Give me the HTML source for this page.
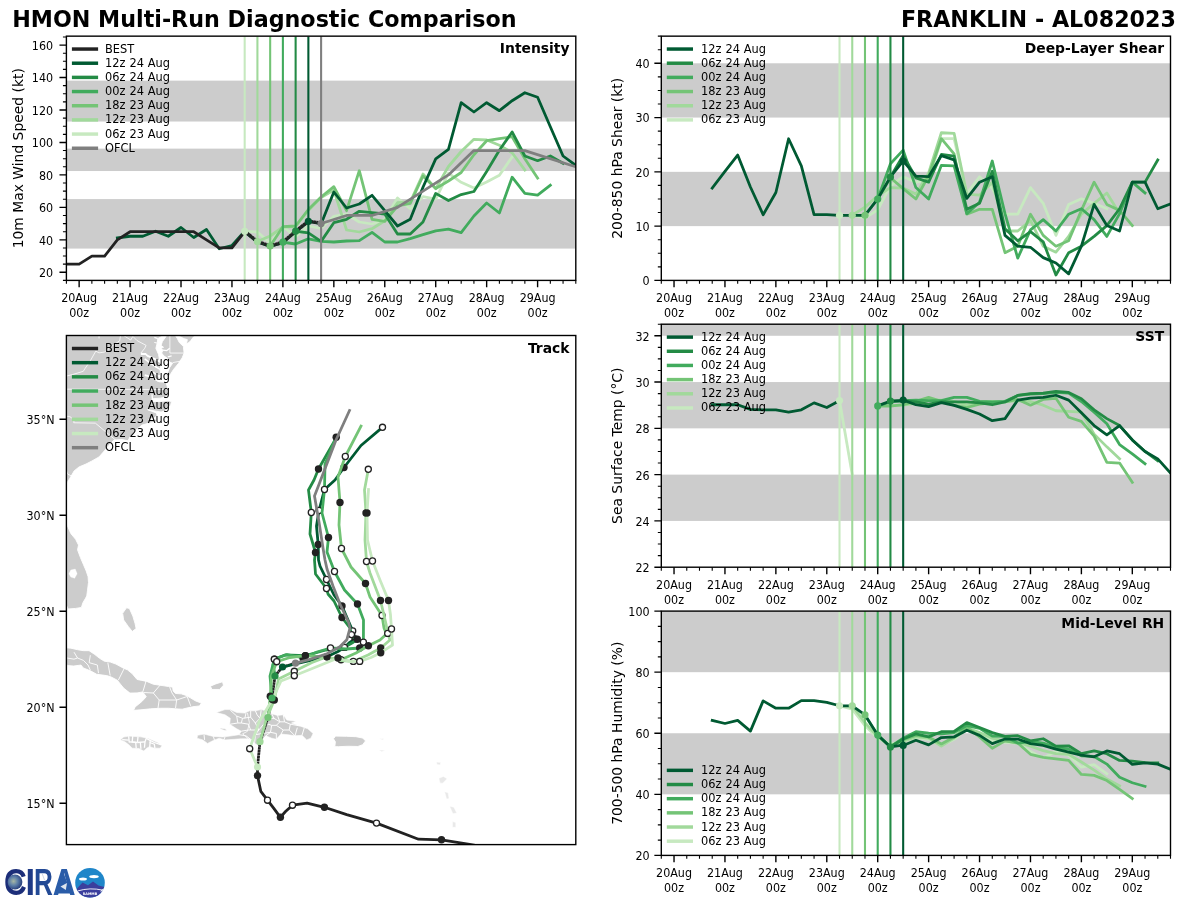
<!DOCTYPE html>
<html lang="en"><head><meta charset="utf-8"><title>HMON Multi-Run Diagnostic Comparison</title>
<style>html,body{margin:0;padding:0;background:#fff}svg{display:block}</style></head>
<body>
<svg width="1200" height="900" viewBox="0 0 1200 900" font-family="'DejaVu Sans','Liberation Sans',sans-serif">
<rect width="1200" height="900" fill="#fff"/>
<text x="12.2" y="26.6" font-size="22.22" text-anchor="start" font-weight="bold" fill="#000">HMON Multi-Run Diagnostic Comparison</text>
<text x="1176" y="26.6" font-size="22.22" text-anchor="end" font-weight="bold" fill="#000">FRANKLIN - AL082023</text>
<clipPath id="c1"><rect x="66.4" y="36.15" width="509.4" height="244.25"/></clipPath>
<g clip-path="url(#c1)">
<rect x="66.4" y="199.09" width="509.4" height="49.5" fill="#cccccc"/>
<rect x="66.4" y="148.62" width="509.4" height="22.4" fill="#cccccc"/>
<rect x="66.4" y="80.62" width="509.4" height="40.9" fill="#cccccc"/>
<polyline points="117.34,238 130.07,236.25 142.81,236.25 155.55,231.25 168.28,236.25 181.01,227.5 193.75,237.5 206.48,229.5 219.22,248.75 231.96,245.5 244.69,231.25" fill="none" stroke="#005a32" stroke-width="2.78" stroke-linejoin="round" stroke-linecap="square" />
<polyline points="66.4,264.17 79.14,264.17 91.87,256.06 104.61,256.06 117.34,239.83 130.07,231.71 142.81,231.71 155.55,231.71 168.28,231.71 181.01,231.71 193.75,231.71 206.48,239.83 219.22,247.94 231.96,247.94 244.69,231.71" fill="none" stroke="#222222" stroke-width="2.78" stroke-linejoin="round" stroke-linecap="square" />
<polyline points="244.69,231.3 257.42,232 270.16,243 282.89,226.5 295.63,236.7 308.37,226 321.1,228.3 333.84,216.3 346.57,214 359.3,222 372.04,224 384.77,219.3 397.51,198 410.25,208.7 422.98,196.7 435.72,199.2 448.45,173.2 461.18,182.3 473.92,188 486.65,182 499.39,175.2 512.12,157" fill="none" stroke="#c7e9c0" stroke-width="2.78" stroke-linejoin="round" stroke-linecap="square" />
<line x1="244.69" y1="36.15" x2="244.69" y2="280.4" stroke="#c7e9c0" stroke-width="2.08"/>
<polyline points="257.42,241.5 270.16,236 282.89,227 295.63,226.5 308.37,210.5 321.1,197.5 333.84,190 346.57,230 359.3,232 372.04,228.7 384.77,220.7 397.51,202.7 410.25,202 422.98,174 435.72,188.7 448.45,166.5 461.18,151.5 473.92,139.3 486.65,140 499.39,145.3 512.12,152.7 524.86,170" fill="none" stroke="#a1d99b" stroke-width="2.78" stroke-linejoin="round" stroke-linecap="square" />
<line x1="257.42" y1="36.15" x2="257.42" y2="280.4" stroke="#a1d99b" stroke-width="2.08"/>
<polyline points="270.16,246 282.89,226.7 295.63,226 308.37,209.5 321.1,197 333.84,186.7 346.57,210.7 359.3,170.7 372.04,219.3 384.77,221.3 397.51,206 410.25,203.3 422.98,176 435.72,188.5 448.45,181 461.18,172.5 473.92,154.8 486.65,140.7 499.39,138.7 512.12,136.7 524.86,158.7 537.6,178" fill="none" stroke="#74c476" stroke-width="2.78" stroke-linejoin="round" stroke-linecap="square" />
<line x1="270.16" y1="36.15" x2="270.16" y2="280.4" stroke="#74c476" stroke-width="2.08"/>
<polyline points="282.89,242.2 295.63,244 308.37,238.8 321.1,241.3 333.84,242 346.57,241 359.3,240.7 372.04,232.4 384.77,242 397.51,242 410.25,238.7 422.98,234.7 435.72,230.8 448.45,229.1 461.18,232.6 473.92,216 486.65,203 499.39,213 512.12,177.2 524.86,193.4 537.6,195.2 550.33,185.3" fill="none" stroke="#41ab5d" stroke-width="2.78" stroke-linejoin="round" stroke-linecap="square" />
<line x1="282.89" y1="36.15" x2="282.89" y2="280.4" stroke="#41ab5d" stroke-width="2.08"/>
<polyline points="295.63,231.2 308.37,232.8 321.1,241.4 333.84,222.7 346.57,219.3 359.3,211.3 372.04,212.7 384.77,214 397.51,234 410.25,234 422.98,222 435.72,193.4 448.45,200.5 461.18,194.6 473.92,191.5 486.65,171.5 499.39,150.3 512.12,132 524.86,156 537.6,160.7 550.33,156 563.06,163.3" fill="none" stroke="#238b45" stroke-width="2.78" stroke-linejoin="round" stroke-linecap="square" />
<line x1="295.63" y1="36.15" x2="295.63" y2="280.4" stroke="#238b45" stroke-width="2.08"/>
<polyline points="308.37,221.3 321.1,224 333.84,192 346.57,208 359.3,204 372.04,195.3 384.77,210.7 397.51,226 410.25,219.3 422.98,187.3 435.72,158.9 448.45,149.3 461.18,102.7 473.92,112 486.65,102.7 499.39,110.7 512.12,100.7 524.86,92.7 537.6,97.3 550.33,126.7 563.06,156 575.8,165.3" fill="none" stroke="#005a32" stroke-width="2.78" stroke-linejoin="round" stroke-linecap="square" />
<line x1="308.37" y1="36.15" x2="308.37" y2="280.4" stroke="#005a32" stroke-width="2.08"/>
<line x1="321.1" y1="36.15" x2="321.1" y2="280.4" stroke="#7f7f7f" stroke-width="2.08"/>
<polyline points="321.1,223.6 346.57,215.48 372.04,215.48 397.51,207.37 422.98,191.14 448.45,174.91 473.92,150.57 524.86,150.57 575.8,166.8" fill="none" stroke="#7f7f7f" stroke-width="2.78" stroke-linejoin="round" stroke-linecap="square" />
<polyline points="244.69,231.8 257.42,242 270.16,246.5 282.89,242.7 295.63,231.7 308.37,221.8" fill="none" stroke="#005a32" stroke-width="2.78" stroke-linejoin="round" stroke-linecap="square" />
<polyline points="244.69,231.3 257.42,241.5 270.16,246 282.89,242.2 295.63,231.2 308.37,221.3 321.1,223" fill="none" stroke="#222222" stroke-width="3.4" stroke-linejoin="round" stroke-dasharray="2.6 0.3"/>
<circle cx="244.69" cy="231.3" r="3.6" fill="#c7e9c0"/>
<circle cx="257.42" cy="241.5" r="3.6" fill="#a1d99b"/>
<circle cx="270.16" cy="246" r="3.6" fill="#74c476"/>
<circle cx="282.89" cy="242.2" r="3.6" fill="#41ab5d"/>
<circle cx="295.63" cy="231.2" r="3.6" fill="#238b45"/>
<circle cx="308.37" cy="221.3" r="3.6" fill="#005a32"/>
<circle cx="321.1" cy="223.6" r="3.6" fill="#7f7f7f"/>
</g>
<rect x="66.4" y="36.15" width="509.4" height="244.25" fill="none" stroke="#000" stroke-width="1.39"/>
<path d="M66.4 272.29h-6.94M66.4 239.83h-6.94M66.4 207.37h-6.94M66.4 174.91h-6.94M66.4 142.45h-6.94M66.4 109.99h-6.94M66.4 77.53h-6.94M66.4 45.08h-6.94" stroke="#000" stroke-width="1.39" fill="none"/>
<path d="M66.4 280.4h-3.47M66.4 264.17h-3.47M66.4 256.06h-3.47M66.4 247.94h-3.47M66.4 231.71h-3.47M66.4 223.6h-3.47M66.4 215.48h-3.47M66.4 199.25h-3.47M66.4 191.14h-3.47M66.4 183.02h-3.47M66.4 166.8h-3.47M66.4 158.68h-3.47M66.4 150.57h-3.47M66.4 134.34h-3.47M66.4 126.22h-3.47M66.4 118.11h-3.47M66.4 101.88h-3.47M66.4 93.76h-3.47M66.4 85.65h-3.47M66.4 69.42h-3.47M66.4 61.31h-3.47M66.4 53.19h-3.47M66.4 36.96h-3.47" stroke="#000" stroke-width="1.1" fill="none"/>
<text transform="translate(53.1 277.19) scale(1 1.08)" font-size="11.15" word-spacing="0.3" text-anchor="end" fill="#000">20</text>
<text transform="translate(53.1 244.73) scale(1 1.08)" font-size="11.15" word-spacing="0.3" text-anchor="end" fill="#000">40</text>
<text transform="translate(53.1 212.27) scale(1 1.08)" font-size="11.15" word-spacing="0.3" text-anchor="end" fill="#000">60</text>
<text transform="translate(53.1 179.81) scale(1 1.08)" font-size="11.15" word-spacing="0.3" text-anchor="end" fill="#000">80</text>
<text transform="translate(53.1 147.35) scale(1 1.08)" font-size="11.15" word-spacing="0.3" text-anchor="end" fill="#000">100</text>
<text transform="translate(53.1 114.89) scale(1 1.08)" font-size="11.15" word-spacing="0.3" text-anchor="end" fill="#000">120</text>
<text transform="translate(53.1 82.43) scale(1 1.08)" font-size="11.15" word-spacing="0.3" text-anchor="end" fill="#000">140</text>
<text transform="translate(53.1 49.98) scale(1 1.08)" font-size="11.15" word-spacing="0.3" text-anchor="end" fill="#000">160</text>
<path d="M79.14 280.4v6.94M130.07 280.4v6.94M181.01 280.4v6.94M231.96 280.4v6.94M282.89 280.4v6.94M333.84 280.4v6.94M384.77 280.4v6.94M435.72 280.4v6.94M486.65 280.4v6.94M537.6 280.4v6.94" stroke="#000" stroke-width="1.39" fill="none"/>
<path d="M66.4 280.4v3.47M91.87 280.4v3.47M104.61 280.4v3.47M117.34 280.4v3.47M142.81 280.4v3.47M155.55 280.4v3.47M168.28 280.4v3.47M193.75 280.4v3.47M206.48 280.4v3.47M219.22 280.4v3.47M244.69 280.4v3.47M257.42 280.4v3.47M270.16 280.4v3.47M295.63 280.4v3.47M308.37 280.4v3.47M321.1 280.4v3.47M346.57 280.4v3.47M359.3 280.4v3.47M372.04 280.4v3.47M397.51 280.4v3.47M410.25 280.4v3.47M422.98 280.4v3.47M448.45 280.4v3.47M461.18 280.4v3.47M473.92 280.4v3.47M499.39 280.4v3.47M512.12 280.4v3.47M524.86 280.4v3.47M550.33 280.4v3.47M563.06 280.4v3.47M575.8 280.4v3.47" stroke="#000" stroke-width="1.1" fill="none"/>
<text transform="translate(79.14 301.8) scale(1 1.08)" font-size="11.15" word-spacing="0.3" text-anchor="middle" fill="#000">20Aug</text>
<text transform="translate(79.14 316.8) scale(1 1.08)" font-size="11.15" word-spacing="0.3" text-anchor="middle" fill="#000">00z</text>
<text transform="translate(130.07 301.8) scale(1 1.08)" font-size="11.15" word-spacing="0.3" text-anchor="middle" fill="#000">21Aug</text>
<text transform="translate(130.07 316.8) scale(1 1.08)" font-size="11.15" word-spacing="0.3" text-anchor="middle" fill="#000">00z</text>
<text transform="translate(181.01 301.8) scale(1 1.08)" font-size="11.15" word-spacing="0.3" text-anchor="middle" fill="#000">22Aug</text>
<text transform="translate(181.01 316.8) scale(1 1.08)" font-size="11.15" word-spacing="0.3" text-anchor="middle" fill="#000">00z</text>
<text transform="translate(231.96 301.8) scale(1 1.08)" font-size="11.15" word-spacing="0.3" text-anchor="middle" fill="#000">23Aug</text>
<text transform="translate(231.96 316.8) scale(1 1.08)" font-size="11.15" word-spacing="0.3" text-anchor="middle" fill="#000">00z</text>
<text transform="translate(282.89 301.8) scale(1 1.08)" font-size="11.15" word-spacing="0.3" text-anchor="middle" fill="#000">24Aug</text>
<text transform="translate(282.89 316.8) scale(1 1.08)" font-size="11.15" word-spacing="0.3" text-anchor="middle" fill="#000">00z</text>
<text transform="translate(333.84 301.8) scale(1 1.08)" font-size="11.15" word-spacing="0.3" text-anchor="middle" fill="#000">25Aug</text>
<text transform="translate(333.84 316.8) scale(1 1.08)" font-size="11.15" word-spacing="0.3" text-anchor="middle" fill="#000">00z</text>
<text transform="translate(384.77 301.8) scale(1 1.08)" font-size="11.15" word-spacing="0.3" text-anchor="middle" fill="#000">26Aug</text>
<text transform="translate(384.77 316.8) scale(1 1.08)" font-size="11.15" word-spacing="0.3" text-anchor="middle" fill="#000">00z</text>
<text transform="translate(435.72 301.8) scale(1 1.08)" font-size="11.15" word-spacing="0.3" text-anchor="middle" fill="#000">27Aug</text>
<text transform="translate(435.72 316.8) scale(1 1.08)" font-size="11.15" word-spacing="0.3" text-anchor="middle" fill="#000">00z</text>
<text transform="translate(486.65 301.8) scale(1 1.08)" font-size="11.15" word-spacing="0.3" text-anchor="middle" fill="#000">28Aug</text>
<text transform="translate(486.65 316.8) scale(1 1.08)" font-size="11.15" word-spacing="0.3" text-anchor="middle" fill="#000">00z</text>
<text transform="translate(537.6 301.8) scale(1 1.08)" font-size="11.15" word-spacing="0.3" text-anchor="middle" fill="#000">29Aug</text>
<text transform="translate(537.6 316.8) scale(1 1.08)" font-size="11.15" word-spacing="0.3" text-anchor="middle" fill="#000">00z</text>
<text x="23.3" y="158.27" font-size="13.89" text-anchor="middle" fill="#000" transform="rotate(-90 23.3 158.27)">10m Max Wind Speed (kt)</text>
<text x="569.5" y="53.15" font-size="13.89" text-anchor="end" font-weight="bold" fill="#000">Intensity</text>
<line x1="71.9" y1="49.05" x2="98.1" y2="49.05" stroke="#222222" stroke-width="3.47"/>
<text transform="translate(105 52.55) scale(1 1.08)" font-size="11.4" word-spacing="0.3" text-anchor="start" fill="#000">BEST</text>
<line x1="71.9" y1="63.22" x2="98.1" y2="63.22" stroke="#005a32" stroke-width="3.47"/>
<text transform="translate(105 66.72) scale(1 1.08)" font-size="11.4" word-spacing="0.3" text-anchor="start" fill="#000">12z 24 Aug</text>
<line x1="71.9" y1="77.39" x2="98.1" y2="77.39" stroke="#238b45" stroke-width="3.47"/>
<text transform="translate(105 80.89) scale(1 1.08)" font-size="11.4" word-spacing="0.3" text-anchor="start" fill="#000">06z 24 Aug</text>
<line x1="71.9" y1="91.56" x2="98.1" y2="91.56" stroke="#41ab5d" stroke-width="3.47"/>
<text transform="translate(105 95.06) scale(1 1.08)" font-size="11.4" word-spacing="0.3" text-anchor="start" fill="#000">00z 24 Aug</text>
<line x1="71.9" y1="105.73" x2="98.1" y2="105.73" stroke="#74c476" stroke-width="3.47"/>
<text transform="translate(105 109.23) scale(1 1.08)" font-size="11.4" word-spacing="0.3" text-anchor="start" fill="#000">18z 23 Aug</text>
<line x1="71.9" y1="119.9" x2="98.1" y2="119.9" stroke="#a1d99b" stroke-width="3.47"/>
<text transform="translate(105 123.4) scale(1 1.08)" font-size="11.4" word-spacing="0.3" text-anchor="start" fill="#000">12z 23 Aug</text>
<line x1="71.9" y1="134.07" x2="98.1" y2="134.07" stroke="#c7e9c0" stroke-width="3.47"/>
<text transform="translate(105 137.57) scale(1 1.08)" font-size="11.4" word-spacing="0.3" text-anchor="start" fill="#000">06z 23 Aug</text>
<line x1="71.9" y1="148.24" x2="98.1" y2="148.24" stroke="#7f7f7f" stroke-width="3.47"/>
<text transform="translate(105 151.74) scale(1 1.08)" font-size="11.4" word-spacing="0.3" text-anchor="start" fill="#000">OFCL</text>
<clipPath id="c2"><rect x="661.3" y="36.15" width="509.2" height="244.25"/></clipPath>
<g clip-path="url(#c2)">
<rect x="661.3" y="171.84" width="509.2" height="54.28" fill="#cccccc"/>
<rect x="661.3" y="63.29" width="509.2" height="54.28" fill="#cccccc"/>
<polyline points="839.52,215.27 852.25,215.27 864.98,217.98 877.71,209.84 890.44,185.96 903.17,176.73 915.9,182.16 928.63,179.99 941.36,138.73 954.09,138.73 966.82,193.56 979.55,176.73 992.28,188.13 1005.01,214.18 1017.74,214.18 1030.47,187.58 1043.2,203.33 1055.93,235.35 1068.66,204.41 1081.39,198.71 1094.12,203.33 1106.85,208.75" fill="none" stroke="#c7e9c0" stroke-width="2.78" stroke-linejoin="round" stroke-linecap="square" />
<line x1="839.52" y1="36.15" x2="839.52" y2="280.4" stroke="#c7e9c0" stroke-width="2.08"/>
<polyline points="852.25,215.27 864.98,207.12 877.71,195.73 890.44,187.58 903.17,188.13 915.9,194.1 928.63,172.93 941.36,132.76 954.09,133.31 966.82,194.1 979.55,195.18 992.28,182.16 1005.01,231.01 1017.74,231.01 1030.47,220.69 1043.2,246.2 1055.93,252.18 1068.66,236.43 1081.39,214.18 1094.12,203.33 1106.85,193.01 1119.58,213.64" fill="none" stroke="#a1d99b" stroke-width="2.78" stroke-linejoin="round" stroke-linecap="square" />
<line x1="852.25" y1="36.15" x2="852.25" y2="280.4" stroke="#a1d99b" stroke-width="2.08"/>
<polyline points="864.98,215.27 877.71,198.98 890.44,177.81 903.17,188.67 915.9,198.98 928.63,175.64 941.36,138.73 954.09,153.93 966.82,214.18 979.55,209.3 992.28,209.3 1005.01,252.72 1017.74,246.2 1030.47,214.18 1043.2,235.35 1055.93,246.2 1068.66,240.78 1081.39,210.38 1094.12,182.16 1106.85,204.41 1119.58,210.38 1132.31,225.58" fill="none" stroke="#74c476" stroke-width="2.78" stroke-linejoin="round" stroke-linecap="square" />
<line x1="864.98" y1="36.15" x2="864.98" y2="280.4" stroke="#74c476" stroke-width="2.08"/>
<polyline points="877.71,198.98 890.44,163.7 903.17,150.13 915.9,187.58 928.63,198.98 941.36,165.33 954.09,165.87 966.82,213.64 979.55,202.24 992.28,160.99 1005.01,213.64 1017.74,258.15 1030.47,229.92 1043.2,219.61 1055.93,231.01 1068.66,214.18 1081.39,208.75 1094.12,219.61 1106.85,236.43 1119.58,213.64 1132.31,182.16 1145.04,193.01" fill="none" stroke="#41ab5d" stroke-width="2.78" stroke-linejoin="round" stroke-linecap="square" />
<line x1="877.71" y1="36.15" x2="877.71" y2="280.4" stroke="#41ab5d" stroke-width="2.08"/>
<polyline points="890.44,177 903.17,155.56 915.9,177.81 928.63,182.16 941.36,154.48 954.09,156.1 966.82,209.3 979.55,203.33 992.28,171.3 1005.01,228.84 1017.74,240.78 1030.47,231.55 1043.2,241.86 1055.93,274.97 1068.66,252.72 1081.39,246.2 1094.12,236.43 1106.85,225.58 1119.58,208.75 1132.31,182.16 1145.04,182.16 1157.77,159.9" fill="none" stroke="#238b45" stroke-width="2.78" stroke-linejoin="round" stroke-linecap="square" />
<line x1="890.44" y1="36.15" x2="890.44" y2="280.4" stroke="#238b45" stroke-width="2.08"/>
<polyline points="903.17,160.99 915.9,176.19 928.63,176.73 941.36,155.56 954.09,159.9 966.82,198.44 979.55,182.16 992.28,176.73 1005.01,235.35 1017.74,246.2 1030.47,247.29 1043.2,257.6 1055.93,263.03 1068.66,273.89 1081.39,246.2 1094.12,204.41 1106.85,225.58 1119.58,231.01 1132.31,182.16 1145.04,182.16 1157.77,208.75 1170.5,203.87" fill="none" stroke="#005a32" stroke-width="2.78" stroke-linejoin="round" stroke-linecap="square" />
<line x1="903.17" y1="36.15" x2="903.17" y2="280.4" stroke="#005a32" stroke-width="2.08"/>
<polyline points="712.22,188.13 724.95,171.3 737.68,155.02 750.41,187.04 763.14,214.72 775.87,192.47 788.6,138.73 801.33,165.87 814.06,214.72 826.79,214.72 839.52,215.27 852.25,215.27 864.98,215.27 877.71,198.98 890.44,177 903.17,160.99" fill="none" stroke="#005a32" stroke-width="2.78" stroke-linejoin="round" stroke-linecap="square" />
<circle cx="839.52" cy="215.27" r="3.6" fill="#c7e9c0"/>
<circle cx="852.25" cy="215.27" r="3.6" fill="#a1d99b"/>
<circle cx="864.98" cy="215.27" r="3.6" fill="#74c476"/>
<circle cx="877.71" cy="198.98" r="3.6" fill="#41ab5d"/>
<circle cx="890.44" cy="177" r="3.6" fill="#238b45"/>
<circle cx="903.17" cy="160.99" r="3.6" fill="#005a32"/>
</g>
<rect x="661.3" y="36.15" width="509.2" height="244.25" fill="none" stroke="#000" stroke-width="1.39"/>
<path d="M661.3 280.4h-6.94M661.3 226.12h-6.94M661.3 171.84h-6.94M661.3 117.57h-6.94M661.3 63.29h-6.94" stroke="#000" stroke-width="1.39" fill="none"/>
<path d="M661.3 266.83h-3.47M661.3 253.26h-3.47M661.3 239.69h-3.47M661.3 212.55h-3.47M661.3 198.98h-3.47M661.3 185.41h-3.47M661.3 158.27h-3.47M661.3 144.71h-3.47M661.3 131.14h-3.47M661.3 104h-3.47M661.3 90.43h-3.47M661.3 76.86h-3.47M661.3 49.72h-3.47M661.3 36.15h-3.47" stroke="#000" stroke-width="1.1" fill="none"/>
<text transform="translate(649.6 285.3) scale(1 1.08)" font-size="11.15" word-spacing="0.3" text-anchor="end" fill="#000">0</text>
<text transform="translate(649.6 231.02) scale(1 1.08)" font-size="11.15" word-spacing="0.3" text-anchor="end" fill="#000">10</text>
<text transform="translate(649.6 176.74) scale(1 1.08)" font-size="11.15" word-spacing="0.3" text-anchor="end" fill="#000">20</text>
<text transform="translate(649.6 122.47) scale(1 1.08)" font-size="11.15" word-spacing="0.3" text-anchor="end" fill="#000">30</text>
<text transform="translate(649.6 68.19) scale(1 1.08)" font-size="11.15" word-spacing="0.3" text-anchor="end" fill="#000">40</text>
<path d="M674.03 280.4v6.94M724.95 280.4v6.94M775.87 280.4v6.94M826.79 280.4v6.94M877.71 280.4v6.94M928.63 280.4v6.94M979.55 280.4v6.94M1030.47 280.4v6.94M1081.39 280.4v6.94M1132.31 280.4v6.94" stroke="#000" stroke-width="1.39" fill="none"/>
<path d="M661.3 280.4v3.47M686.76 280.4v3.47M699.49 280.4v3.47M712.22 280.4v3.47M737.68 280.4v3.47M750.41 280.4v3.47M763.14 280.4v3.47M788.6 280.4v3.47M801.33 280.4v3.47M814.06 280.4v3.47M839.52 280.4v3.47M852.25 280.4v3.47M864.98 280.4v3.47M890.44 280.4v3.47M903.17 280.4v3.47M915.9 280.4v3.47M941.36 280.4v3.47M954.09 280.4v3.47M966.82 280.4v3.47M992.28 280.4v3.47M1005.01 280.4v3.47M1017.74 280.4v3.47M1043.2 280.4v3.47M1055.93 280.4v3.47M1068.66 280.4v3.47M1094.12 280.4v3.47M1106.85 280.4v3.47M1119.58 280.4v3.47M1145.04 280.4v3.47M1157.77 280.4v3.47M1170.5 280.4v3.47" stroke="#000" stroke-width="1.1" fill="none"/>
<text transform="translate(674.03 301.8) scale(1 1.08)" font-size="11.15" word-spacing="0.3" text-anchor="middle" fill="#000">20Aug</text>
<text transform="translate(674.03 316.8) scale(1 1.08)" font-size="11.15" word-spacing="0.3" text-anchor="middle" fill="#000">00z</text>
<text transform="translate(724.95 301.8) scale(1 1.08)" font-size="11.15" word-spacing="0.3" text-anchor="middle" fill="#000">21Aug</text>
<text transform="translate(724.95 316.8) scale(1 1.08)" font-size="11.15" word-spacing="0.3" text-anchor="middle" fill="#000">00z</text>
<text transform="translate(775.87 301.8) scale(1 1.08)" font-size="11.15" word-spacing="0.3" text-anchor="middle" fill="#000">22Aug</text>
<text transform="translate(775.87 316.8) scale(1 1.08)" font-size="11.15" word-spacing="0.3" text-anchor="middle" fill="#000">00z</text>
<text transform="translate(826.79 301.8) scale(1 1.08)" font-size="11.15" word-spacing="0.3" text-anchor="middle" fill="#000">23Aug</text>
<text transform="translate(826.79 316.8) scale(1 1.08)" font-size="11.15" word-spacing="0.3" text-anchor="middle" fill="#000">00z</text>
<text transform="translate(877.71 301.8) scale(1 1.08)" font-size="11.15" word-spacing="0.3" text-anchor="middle" fill="#000">24Aug</text>
<text transform="translate(877.71 316.8) scale(1 1.08)" font-size="11.15" word-spacing="0.3" text-anchor="middle" fill="#000">00z</text>
<text transform="translate(928.63 301.8) scale(1 1.08)" font-size="11.15" word-spacing="0.3" text-anchor="middle" fill="#000">25Aug</text>
<text transform="translate(928.63 316.8) scale(1 1.08)" font-size="11.15" word-spacing="0.3" text-anchor="middle" fill="#000">00z</text>
<text transform="translate(979.55 301.8) scale(1 1.08)" font-size="11.15" word-spacing="0.3" text-anchor="middle" fill="#000">26Aug</text>
<text transform="translate(979.55 316.8) scale(1 1.08)" font-size="11.15" word-spacing="0.3" text-anchor="middle" fill="#000">00z</text>
<text transform="translate(1030.47 301.8) scale(1 1.08)" font-size="11.15" word-spacing="0.3" text-anchor="middle" fill="#000">27Aug</text>
<text transform="translate(1030.47 316.8) scale(1 1.08)" font-size="11.15" word-spacing="0.3" text-anchor="middle" fill="#000">00z</text>
<text transform="translate(1081.39 301.8) scale(1 1.08)" font-size="11.15" word-spacing="0.3" text-anchor="middle" fill="#000">28Aug</text>
<text transform="translate(1081.39 316.8) scale(1 1.08)" font-size="11.15" word-spacing="0.3" text-anchor="middle" fill="#000">00z</text>
<text transform="translate(1132.31 301.8) scale(1 1.08)" font-size="11.15" word-spacing="0.3" text-anchor="middle" fill="#000">29Aug</text>
<text transform="translate(1132.31 316.8) scale(1 1.08)" font-size="11.15" word-spacing="0.3" text-anchor="middle" fill="#000">00z</text>
<text x="621.7" y="158.27" font-size="13.89" text-anchor="middle" fill="#000" transform="rotate(-90 621.7 158.27)">200-850 hPa Shear (kt)</text>
<text x="1164.2" y="53.15" font-size="13.89" text-anchor="end" font-weight="bold" fill="#000">Deep-Layer Shear</text>
<line x1="666.8" y1="49.05" x2="693" y2="49.05" stroke="#005a32" stroke-width="3.47"/>
<text transform="translate(701 52.55) scale(1 1.08)" font-size="11.4" word-spacing="0.3" text-anchor="start" fill="#000">12z 24 Aug</text>
<line x1="666.8" y1="63.22" x2="693" y2="63.22" stroke="#238b45" stroke-width="3.47"/>
<text transform="translate(701 66.72) scale(1 1.08)" font-size="11.4" word-spacing="0.3" text-anchor="start" fill="#000">06z 24 Aug</text>
<line x1="666.8" y1="77.39" x2="693" y2="77.39" stroke="#41ab5d" stroke-width="3.47"/>
<text transform="translate(701 80.89) scale(1 1.08)" font-size="11.4" word-spacing="0.3" text-anchor="start" fill="#000">00z 24 Aug</text>
<line x1="666.8" y1="91.56" x2="693" y2="91.56" stroke="#74c476" stroke-width="3.47"/>
<text transform="translate(701 95.06) scale(1 1.08)" font-size="11.4" word-spacing="0.3" text-anchor="start" fill="#000">18z 23 Aug</text>
<line x1="666.8" y1="105.73" x2="693" y2="105.73" stroke="#a1d99b" stroke-width="3.47"/>
<text transform="translate(701 109.23) scale(1 1.08)" font-size="11.4" word-spacing="0.3" text-anchor="start" fill="#000">12z 23 Aug</text>
<line x1="666.8" y1="119.9" x2="693" y2="119.9" stroke="#c7e9c0" stroke-width="3.47"/>
<text transform="translate(701 123.4) scale(1 1.08)" font-size="11.4" word-spacing="0.3" text-anchor="start" fill="#000">06z 23 Aug</text>
<clipPath id="c3"><rect x="661.3" y="324.2" width="509.2" height="243"/></clipPath>
<g clip-path="url(#c3)">
<rect x="661.3" y="474.63" width="509.2" height="46.29" fill="#cccccc"/>
<rect x="661.3" y="382.06" width="509.2" height="46.29" fill="#cccccc"/>
<rect x="661.3" y="289.49" width="509.2" height="46.29" fill="#cccccc"/>
<polyline points="839.52,400.57 852.25,474.63" fill="none" stroke="#c7e9c0" stroke-width="2.78" stroke-linejoin="round" stroke-linecap="square" />
<line x1="839.52" y1="324.2" x2="839.52" y2="567.2" stroke="#c7e9c0" stroke-width="2.08"/>
<polyline points="877.71,405.66 890.44,405.66 903.17,405.2 915.9,403.35 928.63,400.11 941.36,400.11 954.09,401.27 966.82,405.2 979.55,401.96 992.28,401.27 1005.01,401.96 1017.74,400.57 1030.47,401.5 1043.2,405.2 1055.93,410.75 1068.66,411.45 1081.39,412.14 1094.12,434.13 1106.85,446.86 1119.58,458.89" fill="none" stroke="#a1d99b" stroke-width="2.78" stroke-linejoin="round" stroke-linecap="square" />
<line x1="852.25" y1="324.2" x2="852.25" y2="567.2" stroke="#a1d99b" stroke-width="2.08"/>
<polyline points="877.71,406.13 890.44,406.13 903.17,404.74 915.9,401.27 928.63,397.33 941.36,401.27 954.09,405.2 966.82,407.51 979.55,404.04 992.28,402.89 1005.01,401.96 1017.74,399.41 1030.47,405.2 1043.2,399.41 1055.93,398.26 1068.66,417.23 1081.39,421.4 1094.12,436.21 1106.85,462.36 1119.58,463.06 1132.31,482.27" fill="none" stroke="#74c476" stroke-width="2.78" stroke-linejoin="round" stroke-linecap="square" />
<line x1="864.98" y1="324.2" x2="864.98" y2="567.2" stroke="#74c476" stroke-width="2.08"/>
<polyline points="877.71,405.89 890.44,401.96 903.17,400.57 915.9,400.11 928.63,400.57 941.36,400.57 954.09,397.33 966.82,397.33 979.55,401.27 992.28,401.96 1005.01,401.27 1017.74,395.48 1030.47,394.09 1043.2,393.63 1055.93,392.47 1068.66,393.17 1081.39,401.5 1094.12,412.14 1106.85,423.71 1119.58,444.54 1132.31,453.8 1145.04,463.75" fill="none" stroke="#41ab5d" stroke-width="2.78" stroke-linejoin="round" stroke-linecap="square" />
<line x1="877.71" y1="324.2" x2="877.71" y2="567.2" stroke="#41ab5d" stroke-width="2.08"/>
<polyline points="890.44,401.03 903.17,400.57 915.9,401.96 928.63,404.04 941.36,401.96 954.09,401.96 966.82,401.96 979.55,402.89 992.28,404.74 1005.01,401.96 1017.74,395.48 1030.47,393.63 1043.2,393.17 1055.93,391.31 1068.66,392.47 1081.39,398.72 1094.12,409.83 1106.85,418.62 1119.58,425.57 1132.31,439.91 1145.04,451.49 1157.77,460.74" fill="none" stroke="#238b45" stroke-width="2.78" stroke-linejoin="round" stroke-linecap="square" />
<line x1="890.44" y1="324.2" x2="890.44" y2="567.2" stroke="#238b45" stroke-width="2.08"/>
<polyline points="903.17,400.11 915.9,404.74 928.63,406.59 941.36,402.65 954.09,405.43 966.82,409.37 979.55,413.99 992.28,420.71 1005.01,418.62 1017.74,400.11 1030.47,398.03 1043.2,397.33 1055.93,395.25 1068.66,400.11 1081.39,412.84 1094.12,425.57 1106.85,434.82 1119.58,425.57 1132.31,439.91 1145.04,451.49 1157.77,458.89 1170.5,473.01" fill="none" stroke="#005a32" stroke-width="2.78" stroke-linejoin="round" stroke-linecap="square" />
<line x1="903.17" y1="324.2" x2="903.17" y2="567.2" stroke="#005a32" stroke-width="2.08"/>
<polyline points="712.22,404.74 724.95,404.74 737.68,404.74 750.41,409.37 763.14,409.83 775.87,409.83 788.6,412.14 801.33,409.83 814.06,402.89 826.79,407.51 839.52,400.57" fill="none" stroke="#005a32" stroke-width="2.78" stroke-linejoin="round" stroke-linecap="square" />
<polyline points="877.71,405.89 890.44,401.03 903.17,400.57" fill="none" stroke="#005a32" stroke-width="2.78" stroke-linejoin="round" stroke-linecap="square" />
<circle cx="839.52" cy="400.57" r="3.6" fill="#c7e9c0"/>
<circle cx="877.71" cy="405.89" r="3.6" fill="#41ab5d"/>
<circle cx="890.44" cy="401.03" r="3.6" fill="#238b45"/>
<circle cx="903.17" cy="400.11" r="3.6" fill="#005a32"/>
</g>
<rect x="661.3" y="324.2" width="509.2" height="243" fill="none" stroke="#000" stroke-width="1.39"/>
<path d="M661.3 567.2h-6.94M661.3 520.91h-6.94M661.3 474.63h-6.94M661.3 428.34h-6.94M661.3 382.06h-6.94M661.3 335.77h-6.94" stroke="#000" stroke-width="1.39" fill="none"/>
<path d="M661.3 555.63h-3.47M661.3 544.06h-3.47M661.3 532.49h-3.47M661.3 509.34h-3.47M661.3 497.77h-3.47M661.3 486.2h-3.47M661.3 463.06h-3.47M661.3 451.49h-3.47M661.3 439.91h-3.47M661.3 416.77h-3.47M661.3 405.2h-3.47M661.3 393.63h-3.47M661.3 370.49h-3.47M661.3 358.91h-3.47M661.3 347.34h-3.47M661.3 324.2h-3.47" stroke="#000" stroke-width="1.1" fill="none"/>
<text transform="translate(649.6 572.1) scale(1 1.08)" font-size="11.15" word-spacing="0.3" text-anchor="end" fill="#000">22</text>
<text transform="translate(649.6 525.81) scale(1 1.08)" font-size="11.15" word-spacing="0.3" text-anchor="end" fill="#000">24</text>
<text transform="translate(649.6 479.53) scale(1 1.08)" font-size="11.15" word-spacing="0.3" text-anchor="end" fill="#000">26</text>
<text transform="translate(649.6 433.24) scale(1 1.08)" font-size="11.15" word-spacing="0.3" text-anchor="end" fill="#000">28</text>
<text transform="translate(649.6 386.96) scale(1 1.08)" font-size="11.15" word-spacing="0.3" text-anchor="end" fill="#000">30</text>
<text transform="translate(649.6 340.67) scale(1 1.08)" font-size="11.15" word-spacing="0.3" text-anchor="end" fill="#000">32</text>
<path d="M674.03 567.2v6.94M724.95 567.2v6.94M775.87 567.2v6.94M826.79 567.2v6.94M877.71 567.2v6.94M928.63 567.2v6.94M979.55 567.2v6.94M1030.47 567.2v6.94M1081.39 567.2v6.94M1132.31 567.2v6.94" stroke="#000" stroke-width="1.39" fill="none"/>
<path d="M661.3 567.2v3.47M686.76 567.2v3.47M699.49 567.2v3.47M712.22 567.2v3.47M737.68 567.2v3.47M750.41 567.2v3.47M763.14 567.2v3.47M788.6 567.2v3.47M801.33 567.2v3.47M814.06 567.2v3.47M839.52 567.2v3.47M852.25 567.2v3.47M864.98 567.2v3.47M890.44 567.2v3.47M903.17 567.2v3.47M915.9 567.2v3.47M941.36 567.2v3.47M954.09 567.2v3.47M966.82 567.2v3.47M992.28 567.2v3.47M1005.01 567.2v3.47M1017.74 567.2v3.47M1043.2 567.2v3.47M1055.93 567.2v3.47M1068.66 567.2v3.47M1094.12 567.2v3.47M1106.85 567.2v3.47M1119.58 567.2v3.47M1145.04 567.2v3.47M1157.77 567.2v3.47M1170.5 567.2v3.47" stroke="#000" stroke-width="1.1" fill="none"/>
<text transform="translate(674.03 588.6) scale(1 1.08)" font-size="11.15" word-spacing="0.3" text-anchor="middle" fill="#000">20Aug</text>
<text transform="translate(674.03 603.6) scale(1 1.08)" font-size="11.15" word-spacing="0.3" text-anchor="middle" fill="#000">00z</text>
<text transform="translate(724.95 588.6) scale(1 1.08)" font-size="11.15" word-spacing="0.3" text-anchor="middle" fill="#000">21Aug</text>
<text transform="translate(724.95 603.6) scale(1 1.08)" font-size="11.15" word-spacing="0.3" text-anchor="middle" fill="#000">00z</text>
<text transform="translate(775.87 588.6) scale(1 1.08)" font-size="11.15" word-spacing="0.3" text-anchor="middle" fill="#000">22Aug</text>
<text transform="translate(775.87 603.6) scale(1 1.08)" font-size="11.15" word-spacing="0.3" text-anchor="middle" fill="#000">00z</text>
<text transform="translate(826.79 588.6) scale(1 1.08)" font-size="11.15" word-spacing="0.3" text-anchor="middle" fill="#000">23Aug</text>
<text transform="translate(826.79 603.6) scale(1 1.08)" font-size="11.15" word-spacing="0.3" text-anchor="middle" fill="#000">00z</text>
<text transform="translate(877.71 588.6) scale(1 1.08)" font-size="11.15" word-spacing="0.3" text-anchor="middle" fill="#000">24Aug</text>
<text transform="translate(877.71 603.6) scale(1 1.08)" font-size="11.15" word-spacing="0.3" text-anchor="middle" fill="#000">00z</text>
<text transform="translate(928.63 588.6) scale(1 1.08)" font-size="11.15" word-spacing="0.3" text-anchor="middle" fill="#000">25Aug</text>
<text transform="translate(928.63 603.6) scale(1 1.08)" font-size="11.15" word-spacing="0.3" text-anchor="middle" fill="#000">00z</text>
<text transform="translate(979.55 588.6) scale(1 1.08)" font-size="11.15" word-spacing="0.3" text-anchor="middle" fill="#000">26Aug</text>
<text transform="translate(979.55 603.6) scale(1 1.08)" font-size="11.15" word-spacing="0.3" text-anchor="middle" fill="#000">00z</text>
<text transform="translate(1030.47 588.6) scale(1 1.08)" font-size="11.15" word-spacing="0.3" text-anchor="middle" fill="#000">27Aug</text>
<text transform="translate(1030.47 603.6) scale(1 1.08)" font-size="11.15" word-spacing="0.3" text-anchor="middle" fill="#000">00z</text>
<text transform="translate(1081.39 588.6) scale(1 1.08)" font-size="11.15" word-spacing="0.3" text-anchor="middle" fill="#000">28Aug</text>
<text transform="translate(1081.39 603.6) scale(1 1.08)" font-size="11.15" word-spacing="0.3" text-anchor="middle" fill="#000">00z</text>
<text transform="translate(1132.31 588.6) scale(1 1.08)" font-size="11.15" word-spacing="0.3" text-anchor="middle" fill="#000">29Aug</text>
<text transform="translate(1132.31 603.6) scale(1 1.08)" font-size="11.15" word-spacing="0.3" text-anchor="middle" fill="#000">00z</text>
<text x="621.7" y="445.7" font-size="13.89" text-anchor="middle" fill="#000" transform="rotate(-90 621.7 445.7)">Sea Surface Temp (°C)</text>
<text x="1164.2" y="341.2" font-size="13.89" text-anchor="end" font-weight="bold" fill="#000">SST</text>
<line x1="666.8" y1="337.1" x2="693" y2="337.1" stroke="#005a32" stroke-width="3.47"/>
<text transform="translate(701 340.6) scale(1 1.08)" font-size="11.4" word-spacing="0.3" text-anchor="start" fill="#000">12z 24 Aug</text>
<line x1="666.8" y1="351.27" x2="693" y2="351.27" stroke="#238b45" stroke-width="3.47"/>
<text transform="translate(701 354.77) scale(1 1.08)" font-size="11.4" word-spacing="0.3" text-anchor="start" fill="#000">06z 24 Aug</text>
<line x1="666.8" y1="365.44" x2="693" y2="365.44" stroke="#41ab5d" stroke-width="3.47"/>
<text transform="translate(701 368.94) scale(1 1.08)" font-size="11.4" word-spacing="0.3" text-anchor="start" fill="#000">00z 24 Aug</text>
<line x1="666.8" y1="379.61" x2="693" y2="379.61" stroke="#74c476" stroke-width="3.47"/>
<text transform="translate(701 383.11) scale(1 1.08)" font-size="11.4" word-spacing="0.3" text-anchor="start" fill="#000">18z 23 Aug</text>
<line x1="666.8" y1="393.78" x2="693" y2="393.78" stroke="#a1d99b" stroke-width="3.47"/>
<text transform="translate(701 397.28) scale(1 1.08)" font-size="11.4" word-spacing="0.3" text-anchor="start" fill="#000">12z 23 Aug</text>
<line x1="666.8" y1="407.95" x2="693" y2="407.95" stroke="#c7e9c0" stroke-width="3.47"/>
<text transform="translate(701 411.45) scale(1 1.08)" font-size="11.4" word-spacing="0.3" text-anchor="start" fill="#000">06z 23 Aug</text>
<clipPath id="c4"><rect x="661.3" y="611.1" width="509.2" height="244.3"/></clipPath>
<g clip-path="url(#c4)">
<rect x="661.3" y="733.25" width="509.2" height="61.08" fill="#cccccc"/>
<rect x="661.3" y="611.1" width="509.2" height="61.07" fill="#cccccc"/>
<polyline points="839.52,705.77 852.25,709.13 864.98,725.62 877.71,738.14 890.44,743.94 903.17,741.8 915.9,737.53 928.63,739.36 941.36,745.47 954.09,739.36 966.82,728.67 979.55,734.78 992.28,740.88 1005.01,742.41 1017.74,743.02 1030.47,751.57 1043.2,757.99 1055.93,751.57 1068.66,755.24 1081.39,767.15 1094.12,764.7 1106.85,773.86" fill="none" stroke="#c7e9c0" stroke-width="2.78" stroke-linejoin="round" stroke-linecap="square" />
<line x1="839.52" y1="611.1" x2="839.52" y2="855.4" stroke="#c7e9c0" stroke-width="2.08"/>
<polyline points="852.25,705.77 864.98,722.56 877.71,736.91 890.44,746.08 903.17,741.19 915.9,736.91 928.63,738.14 941.36,746.08 954.09,738.14 966.82,727.75 979.55,732.64 992.28,738.14 1005.01,741.19 1017.74,742.41 1030.47,746.08 1043.2,750.66 1055.93,753.71 1068.66,754.32 1081.39,761.96 1094.12,770.2 1106.85,779.06 1119.58,785.77" fill="none" stroke="#a1d99b" stroke-width="2.78" stroke-linejoin="round" stroke-linecap="square" />
<line x1="852.25" y1="611.1" x2="852.25" y2="855.4" stroke="#a1d99b" stroke-width="2.08"/>
<polyline points="864.98,714.93 877.71,735.39 890.44,746.69 903.17,739.66 915.9,735.39 928.63,736.91 941.36,743.94 954.09,736.91 966.82,727.14 979.55,736.91 992.28,748.21 1005.01,740.88 1017.74,743.02 1030.47,754.32 1043.2,757.37 1055.93,758.9 1068.66,760.43 1081.39,774.48 1094.12,775.39 1106.85,780.58 1119.58,789.44 1132.31,798.6" fill="none" stroke="#74c476" stroke-width="2.78" stroke-linejoin="round" stroke-linecap="square" />
<line x1="864.98" y1="611.1" x2="864.98" y2="855.4" stroke="#74c476" stroke-width="2.08"/>
<polyline points="877.71,735.08 890.44,746.69 903.17,738.14 915.9,731.72 928.63,733.25 941.36,733.86 954.09,732.64 966.82,725.62 979.55,728.36 992.28,736 1005.01,736.3 1017.74,743.02 1030.47,741.5 1043.2,743.02 1055.93,747.6 1068.66,749.13 1081.39,755.85 1094.12,756.46 1106.85,764.09 1119.58,777.22 1132.31,782.72 1145.04,786.39" fill="none" stroke="#41ab5d" stroke-width="2.78" stroke-linejoin="round" stroke-linecap="square" />
<line x1="877.71" y1="611.1" x2="877.71" y2="855.4" stroke="#41ab5d" stroke-width="2.08"/>
<polyline points="890.44,746.99 903.17,739.05 915.9,733.86 928.63,736.91 941.36,731.72 954.09,731.42 966.82,722.56 979.55,727.45 992.28,732.64 1005.01,736.3 1017.74,735.69 1030.47,740.88 1043.2,738.75 1055.93,746.08 1068.66,745.77 1081.39,753.71 1094.12,750.96 1106.85,753.71 1119.58,760.43 1132.31,761.04 1145.04,762.57 1157.77,762.87" fill="none" stroke="#238b45" stroke-width="2.78" stroke-linejoin="round" stroke-linecap="square" />
<line x1="890.44" y1="611.1" x2="890.44" y2="855.4" stroke="#238b45" stroke-width="2.08"/>
<polyline points="903.17,745.47 915.9,740.27 928.63,744.85 941.36,737.53 954.09,736.91 966.82,730.2 979.55,735.39 992.28,743.63 1005.01,739.05 1017.74,739.05 1030.47,743.63 1043.2,745.47 1055.93,749.13 1068.66,752.18 1081.39,755.24 1094.12,756.76 1106.85,750.96 1119.58,753.71 1132.31,764.4 1145.04,762.87 1157.77,764.09 1170.5,769.28" fill="none" stroke="#005a32" stroke-width="2.78" stroke-linejoin="round" stroke-linecap="square" />
<line x1="903.17" y1="611.1" x2="903.17" y2="855.4" stroke="#005a32" stroke-width="2.08"/>
<polyline points="712.22,720.42 724.95,723.48 737.68,720.42 750.41,731.11 763.14,700.88 775.87,708.21 788.6,708.21 801.33,700.57 814.06,700.57 826.79,702.41 839.52,705.77 852.25,705.77 864.98,714.93 877.71,735.08 890.44,746.99 903.17,745.16" fill="none" stroke="#005a32" stroke-width="2.78" stroke-linejoin="round" stroke-linecap="square" />
<circle cx="839.52" cy="705.77" r="3.6" fill="#c7e9c0"/>
<circle cx="852.25" cy="705.77" r="3.6" fill="#a1d99b"/>
<circle cx="864.98" cy="714.93" r="3.6" fill="#74c476"/>
<circle cx="877.71" cy="735.08" r="3.6" fill="#41ab5d"/>
<circle cx="890.44" cy="746.99" r="3.6" fill="#238b45"/>
<circle cx="903.17" cy="745.47" r="3.6" fill="#005a32"/>
</g>
<rect x="661.3" y="611.1" width="509.2" height="244.3" fill="none" stroke="#000" stroke-width="1.39"/>
<path d="M661.3 855.4h-6.94M661.3 794.33h-6.94M661.3 733.25h-6.94M661.3 672.17h-6.94M661.3 611.1h-6.94" stroke="#000" stroke-width="1.39" fill="none"/>
<path d="M661.3 840.13h-3.47M661.3 824.86h-3.47M661.3 809.59h-3.47M661.3 779.06h-3.47M661.3 763.79h-3.47M661.3 748.52h-3.47M661.3 717.98h-3.47M661.3 702.71h-3.47M661.3 687.44h-3.47M661.3 656.91h-3.47M661.3 641.64h-3.47M661.3 626.37h-3.47" stroke="#000" stroke-width="1.1" fill="none"/>
<text transform="translate(649.6 860.3) scale(1 1.08)" font-size="11.15" word-spacing="0.3" text-anchor="end" fill="#000">20</text>
<text transform="translate(649.6 799.23) scale(1 1.08)" font-size="11.15" word-spacing="0.3" text-anchor="end" fill="#000">40</text>
<text transform="translate(649.6 738.15) scale(1 1.08)" font-size="11.15" word-spacing="0.3" text-anchor="end" fill="#000">60</text>
<text transform="translate(649.6 677.07) scale(1 1.08)" font-size="11.15" word-spacing="0.3" text-anchor="end" fill="#000">80</text>
<text transform="translate(649.6 616) scale(1 1.08)" font-size="11.15" word-spacing="0.3" text-anchor="end" fill="#000">100</text>
<path d="M674.03 855.4v6.94M724.95 855.4v6.94M775.87 855.4v6.94M826.79 855.4v6.94M877.71 855.4v6.94M928.63 855.4v6.94M979.55 855.4v6.94M1030.47 855.4v6.94M1081.39 855.4v6.94M1132.31 855.4v6.94" stroke="#000" stroke-width="1.39" fill="none"/>
<path d="M661.3 855.4v3.47M686.76 855.4v3.47M699.49 855.4v3.47M712.22 855.4v3.47M737.68 855.4v3.47M750.41 855.4v3.47M763.14 855.4v3.47M788.6 855.4v3.47M801.33 855.4v3.47M814.06 855.4v3.47M839.52 855.4v3.47M852.25 855.4v3.47M864.98 855.4v3.47M890.44 855.4v3.47M903.17 855.4v3.47M915.9 855.4v3.47M941.36 855.4v3.47M954.09 855.4v3.47M966.82 855.4v3.47M992.28 855.4v3.47M1005.01 855.4v3.47M1017.74 855.4v3.47M1043.2 855.4v3.47M1055.93 855.4v3.47M1068.66 855.4v3.47M1094.12 855.4v3.47M1106.85 855.4v3.47M1119.58 855.4v3.47M1145.04 855.4v3.47M1157.77 855.4v3.47M1170.5 855.4v3.47" stroke="#000" stroke-width="1.1" fill="none"/>
<text transform="translate(674.03 876.8) scale(1 1.08)" font-size="11.15" word-spacing="0.3" text-anchor="middle" fill="#000">20Aug</text>
<text transform="translate(674.03 891.8) scale(1 1.08)" font-size="11.15" word-spacing="0.3" text-anchor="middle" fill="#000">00z</text>
<text transform="translate(724.95 876.8) scale(1 1.08)" font-size="11.15" word-spacing="0.3" text-anchor="middle" fill="#000">21Aug</text>
<text transform="translate(724.95 891.8) scale(1 1.08)" font-size="11.15" word-spacing="0.3" text-anchor="middle" fill="#000">00z</text>
<text transform="translate(775.87 876.8) scale(1 1.08)" font-size="11.15" word-spacing="0.3" text-anchor="middle" fill="#000">22Aug</text>
<text transform="translate(775.87 891.8) scale(1 1.08)" font-size="11.15" word-spacing="0.3" text-anchor="middle" fill="#000">00z</text>
<text transform="translate(826.79 876.8) scale(1 1.08)" font-size="11.15" word-spacing="0.3" text-anchor="middle" fill="#000">23Aug</text>
<text transform="translate(826.79 891.8) scale(1 1.08)" font-size="11.15" word-spacing="0.3" text-anchor="middle" fill="#000">00z</text>
<text transform="translate(877.71 876.8) scale(1 1.08)" font-size="11.15" word-spacing="0.3" text-anchor="middle" fill="#000">24Aug</text>
<text transform="translate(877.71 891.8) scale(1 1.08)" font-size="11.15" word-spacing="0.3" text-anchor="middle" fill="#000">00z</text>
<text transform="translate(928.63 876.8) scale(1 1.08)" font-size="11.15" word-spacing="0.3" text-anchor="middle" fill="#000">25Aug</text>
<text transform="translate(928.63 891.8) scale(1 1.08)" font-size="11.15" word-spacing="0.3" text-anchor="middle" fill="#000">00z</text>
<text transform="translate(979.55 876.8) scale(1 1.08)" font-size="11.15" word-spacing="0.3" text-anchor="middle" fill="#000">26Aug</text>
<text transform="translate(979.55 891.8) scale(1 1.08)" font-size="11.15" word-spacing="0.3" text-anchor="middle" fill="#000">00z</text>
<text transform="translate(1030.47 876.8) scale(1 1.08)" font-size="11.15" word-spacing="0.3" text-anchor="middle" fill="#000">27Aug</text>
<text transform="translate(1030.47 891.8) scale(1 1.08)" font-size="11.15" word-spacing="0.3" text-anchor="middle" fill="#000">00z</text>
<text transform="translate(1081.39 876.8) scale(1 1.08)" font-size="11.15" word-spacing="0.3" text-anchor="middle" fill="#000">28Aug</text>
<text transform="translate(1081.39 891.8) scale(1 1.08)" font-size="11.15" word-spacing="0.3" text-anchor="middle" fill="#000">00z</text>
<text transform="translate(1132.31 876.8) scale(1 1.08)" font-size="11.15" word-spacing="0.3" text-anchor="middle" fill="#000">29Aug</text>
<text transform="translate(1132.31 891.8) scale(1 1.08)" font-size="11.15" word-spacing="0.3" text-anchor="middle" fill="#000">00z</text>
<text x="621.7" y="733.25" font-size="13.89" text-anchor="middle" fill="#000" transform="rotate(-90 621.7 733.25)">700-500 hPa Humidity (%)</text>
<text x="1164.2" y="628.1" font-size="13.89" text-anchor="end" font-weight="bold" fill="#000">Mid-Level RH</text>
<line x1="666.8" y1="770.35" x2="693" y2="770.35" stroke="#005a32" stroke-width="3.47"/>
<text transform="translate(701 773.85) scale(1 1.08)" font-size="11.4" word-spacing="0.3" text-anchor="start" fill="#000">12z 24 Aug</text>
<line x1="666.8" y1="784.52" x2="693" y2="784.52" stroke="#238b45" stroke-width="3.47"/>
<text transform="translate(701 788.02) scale(1 1.08)" font-size="11.4" word-spacing="0.3" text-anchor="start" fill="#000">06z 24 Aug</text>
<line x1="666.8" y1="798.69" x2="693" y2="798.69" stroke="#41ab5d" stroke-width="3.47"/>
<text transform="translate(701 802.19) scale(1 1.08)" font-size="11.4" word-spacing="0.3" text-anchor="start" fill="#000">00z 24 Aug</text>
<line x1="666.8" y1="812.86" x2="693" y2="812.86" stroke="#74c476" stroke-width="3.47"/>
<text transform="translate(701 816.36) scale(1 1.08)" font-size="11.4" word-spacing="0.3" text-anchor="start" fill="#000">18z 23 Aug</text>
<line x1="666.8" y1="827.03" x2="693" y2="827.03" stroke="#a1d99b" stroke-width="3.47"/>
<text transform="translate(701 830.53) scale(1 1.08)" font-size="11.4" word-spacing="0.3" text-anchor="start" fill="#000">12z 23 Aug</text>
<line x1="666.8" y1="841.2" x2="693" y2="841.2" stroke="#c7e9c0" stroke-width="3.47"/>
<text transform="translate(701 844.7) scale(1 1.08)" font-size="11.4" word-spacing="0.3" text-anchor="start" fill="#000">06z 23 Aug</text>
<clipPath id="c5"><rect x="66.4" y="335.5" width="509.4" height="509.1"/></clipPath>
<g clip-path="url(#c5)">
<polygon points="58.34,489.38 65.06,487.46 67.55,481.89 70.05,478.05 74.08,470.95 79.07,466.92 85.98,464.04 91.94,460.96 99.04,456.93 105.95,449.06 110.18,443.88 114.02,440.04 122.08,439.46 128.03,440.8 129.95,436.96 136.1,430.05 142.05,425.06 148.77,423.14 155.3,422.18 158.18,419.68 155.3,419.3 148.58,419.68 154.34,417.76 157.22,415.46 156.26,412.96 147.62,409.7 156.26,411.24 161.06,412 165.86,410.66 168.74,407.78 170.66,404.9 171.62,401.64 168.74,400.68 160.1,401.44 152.42,401.44 152.42,398.76 160.1,398.18 164.9,397.22 168.16,396.26 168.74,392.42 168.16,389.54 166.43,383.78 165.86,382.24 160.1,381.86 157.22,380.9 160.1,379.94 158.56,376.1 160.48,374.76 160.1,369.38 161.25,364 159.71,360.93 158.56,354.4 155.87,348.26 157.22,343.08 157.79,338.66 161.06,336.74 163.94,333.86 166.82,333.86 165.86,336.74 162.4,341.54 161.06,345.38 163.55,347.3 161.06,348.26 162.98,350.18 161.63,353.06 163.94,355.94 166.82,357.86 169.7,362.08 172.58,363.24 169.7,367.46 167.78,372.26 166.24,375.72 166.82,378.6 168.74,377.06 173.54,369.38 178.34,363.62 182.18,357.86 184.1,353.06 183.52,347.88 183.33,346.34 179.3,342.5 177.38,338.66 174.5,333.86 176.99,333.86 180.26,336.74 184.1,338.66 187.36,339.62 186.4,343.84 188.9,342.5 190.82,340.58 193.31,337.12 196.19,335.59 198.5,332.9 198.5,319.46 41.06,319.46 41.06,489.38" fill="#cccccc" stroke="#fff" stroke-width="0.9"/>
<polygon points="58.34,501.86 61.79,503.78 62.56,509.54 64.1,517.22 66.98,524.9 70.82,533.54 75.62,539.3 78.5,545.06 77.54,549.86 80.42,557.54 83.3,564.26 86.18,570.98 88.1,576.74 88.48,582.5 87.52,590.18 86.75,595.94 85.22,598.82 82.91,602.66 81.38,607.46 75.62,608.42 67.94,609 66.59,605.54 64.1,599.78 58.34,595.94" fill="#cccccc" stroke="#fff" stroke-width="0.9"/>
<polygon points="58.34,647.78 66.02,647.78 70.82,648.16 77.54,649.7 83.3,650.66 89.06,650.66 94.82,654.5 99.62,658.34 104.42,661.22 110.18,661.99 115.94,664.1 123.04,667.94 127.46,669.86 132.26,673.7 137.06,679.46 141.86,680.42 146.66,681.38 153.38,684.26 160.1,685.22 163.94,685.8 168.74,686.56 172.58,687.14 173.15,690.98 175.46,693.48 181.22,693.86 186.02,695.4 190.82,698.08 195.62,700.96 201.38,703.08 199.46,705.96 192.74,706.72 186.02,708.26 182.18,709.22 175.46,708.84 168.74,708.26 160.1,708.26 150.5,708.84 140.9,709.8 133.6,710.37 135.14,706.92 141.86,701.54 146.27,696.74 142.82,691.94 137.06,692.9 129.95,693.09 123.62,688.1 117.28,680.23 111.14,676.96 106.72,675.62 96.74,674.28 90.4,670.82 83.3,667.94 80.99,665.06 73.7,666.02 68.9,665.64 66.02,665.06 58.34,665.06" fill="#cccccc" stroke="#fff" stroke-width="0.9"/>
<polygon points="335.58,736.1 346.34,736.29 355.94,736.68 362.66,738.02 365.54,740.9 362.66,744.74 357.86,746.47 348.26,746.28 338.66,746.66 334.82,746.66 335.39,741.86 333.47,738.79" fill="#cccccc" stroke="#fff" stroke-width="0.9"/>
<polygon points="126.5,607.84 129.38,608.42 132.83,616.1 135.14,623.78 136.1,628.58 132.26,631.46 128.42,626.66 123.62,619.94 122.66,613.22" fill="#cccccc" stroke="#fff" stroke-width="0.9"/>
<polygon points="210.4,686.18 215.78,683.88 222.5,681.76 223.46,685.22 219.62,689.44 211.94,689.44" fill="#cccccc" stroke="#fff" stroke-width="0.9"/>
<polygon points="120.35,739.94 123.62,737.06 128.99,736.1 135.14,736.48 140.9,736.87 148.58,738.4 154.34,740.9 157.79,742.44 162.02,745.7 160.1,748.2 154.34,748.2 149.54,746.66 146.66,748.2 143.78,751.08 138.98,748.58 132.26,748.2 129.38,745.32 124.96,741.86" fill="#d2d2d2" stroke="#fff" stroke-width="0.6"/>
<polygon points="216.3,712.5 225,709.6 230.3,709.6 236.7,712.5 244.8,713.1 249.5,710.8 255.3,710.8 261.2,709.6 265.8,710.8 271.7,713.7 277.5,715.4 283.3,714.8 286.8,720.1 296.2,721.3 291.5,723 299.7,725.9 307.8,728.8 313.1,733.5 310.8,738.2 306.7,739.9 302,735.3 295,735.8 288,734.7 281,734.1 276.3,739.3 271.7,738.2 265.8,735.8 262.3,740.5 260,746.3 255.3,744 253,739.9 248.3,738.8 241.3,738.8 234.3,739.3 225,739.9 219.2,738.2 213.3,740.5 207.5,743.4 202.8,739.9 197,738.2 197.6,735.3 204,734.1 213.3,736.4 222.7,737 232,735.8 239,734.7 241.3,731.2 236.7,728.8 229.7,724.2 230.3,718.3 225,714.8" fill="#cccccc" stroke="#fff" stroke-width="0.6"/>
<polygon points="219.8,728 225,728.8 227.1,730.4 225,730.6 220.6,729.1" fill="#cccccc" stroke="#fff" stroke-width="0.6"/>
<polygon points="165.86,361.7 165.86,361.51 165.66,361.7" fill="#ffffff" stroke="#ffffff" stroke-width="0.3"/>
<polygon points="70.82,570.02 75.23,569.06 77.15,573.86 74.66,578.28 70.82,577.12 68.9,573.86" fill="#ffffff" stroke="#ffffff" stroke-width="0.3"/>
<polygon points="438.88,778.34 443.3,776.42 447.14,778.72 442.72,783.14 440.03,783.14" fill="#e9e9e9" stroke="#fff" stroke-width="0.5"/>
<polygon points="444.64,791.78 448.1,792.74 449.06,798.5 446.56,799.08" fill="#e9e9e9" stroke="#fff" stroke-width="0.5"/>
<polygon points="449.63,806.18 453.86,807.14 456.74,812.9 452.9,813.86" fill="#e9e9e9" stroke="#fff" stroke-width="0.5"/>
<polygon points="452.51,821.54 455.78,822.5 455.78,827.3 452.51,827.3" fill="#e9e9e9" stroke="#fff" stroke-width="0.5"/>
<polygon points="378.98,738.4 383.78,738.79 382.82,739.94" fill="#e9e9e9" stroke="#fff" stroke-width="0.5"/>
<polygon points="378.98,749.92 385.12,750.31 381.86,751.84" fill="#e9e9e9" stroke="#fff" stroke-width="0.5"/>
<polygon points="436.58,762.02 440.8,762.6 440.03,764.9 436.96,764.52" fill="#e9e9e9" stroke="#fff" stroke-width="0.5"/>
<polyline points="160.1,361.7 154.34,358.82 147.62,355.94 145.7,354.02 140.9,354.02" fill="none" stroke="#ffffff" stroke-width="1.8" stroke-linejoin="round" />
<polyline points="160.1,369.38 155.3,366.5 149.54,362.66 144.74,358.82" fill="none" stroke="#ffffff" stroke-width="1.5" stroke-linejoin="round" />
<polyline points="158.56,376.1 154.34,373.22 150.5,370.72" fill="none" stroke="#ffffff" stroke-width="1.5" stroke-linejoin="round" />
<polyline points="160.1,381.48 156.26,379.94 153.38,377.06 148.58,376.1 144.74,375.14" fill="none" stroke="#ffffff" stroke-width="1.8" stroke-linejoin="round" />
<polyline points="152.42,400.1 152.03,394.34" fill="none" stroke="#ffffff" stroke-width="1.3" stroke-linejoin="round" />
<polyline points="162.98,350.18 166.82,350.56 169.7,348.26" fill="none" stroke="#ffffff" stroke-width="1.3" stroke-linejoin="round" />
<polyline points="167.78,356.9 171.62,355.94" fill="none" stroke="#ffffff" stroke-width="1.2" stroke-linejoin="round" />
<polyline points="157.22,343.08 154.34,342.5" fill="none" stroke="#ffffff" stroke-width="1" stroke-linejoin="round" />
<polyline points="157.79,338.66 154.34,337.32" fill="none" stroke="#ffffff" stroke-width="1.2" stroke-linejoin="round" />
<polyline points="163.94,333.86 163.94,330.98" fill="none" stroke="#ffffff" stroke-width="1.5" stroke-linejoin="round" />
<polyline points="168.35,389.54 58.34,389.16" fill="none" stroke="#ffffff" stroke-width="0.8" stroke-linejoin="round" />
<polyline points="58.34,415.84 69.09,416.42 71.2,417.38 74.08,420.64 73.7,422.76 95.39,423.14 116.9,441.19" fill="none" stroke="#ffffff" stroke-width="0.8" stroke-linejoin="round" />
<polyline points="72.16,476.32 67.55,474.02 66.02,469.22 61.22,463.46" fill="none" stroke="#ffffff" stroke-width="0.8" stroke-linejoin="round" />
<polyline points="58.34,375.14 65.63,376.29 72.54,374.56 83.3,371.3 84.83,368.8 89.82,361.7 95.78,351.14 99.04,352.87 104.42,352.1 110.75,347.11 119.78,340.58 120.74,333.67" fill="none" stroke="#ffffff" stroke-width="0.8" stroke-linejoin="round" />
<polyline points="161.25,363.24 154.34,358.82 147.62,355.94 145.7,354.02 140.9,353.06 144.74,348.26 146.08,345.38 137.06,340.58 132.83,336.36 130.72,340 120.74,333.67" fill="none" stroke="#ffffff" stroke-width="0.8" stroke-linejoin="round" />
<polyline points="169.89,353.06 169.89,330.98" fill="none" stroke="#ffffff" stroke-width="0.8" stroke-linejoin="round" />
<polyline points="169.89,353.06 184.1,353.06" fill="none" stroke="#ffffff" stroke-width="0.8" stroke-linejoin="round" />
<polyline points="180.45,361.12 172.58,362.66" fill="none" stroke="#ffffff" stroke-width="0.8" stroke-linejoin="round" />
<polyline points="99.04,338.47 99.04,330.98" fill="none" stroke="#ffffff" stroke-width="0.8" stroke-linejoin="round" />
<polyline points="247.46,745.12 248.42,738.98 242.66,733.8 247.46,731.3 249.38,722.66 247.46,713.06" fill="none" stroke="#ffffff" stroke-width="0.8" stroke-linejoin="round" />
<polyline points="261.17,710.17 260,718.33 255.34,723 258.84,730 255.34,734.67 254.75,741.67" fill="none" stroke="#ffffff" stroke-width="0.95" stroke-linejoin="round" />
<polyline points="230.25,710.17 236.67,716 242.5,718.33 250.67,717.17 255.34,723" fill="none" stroke="#ffffff" stroke-width="0.95" stroke-linejoin="round" />
<polyline points="236.67,716 237.84,723 230.25,724.17" fill="none" stroke="#ffffff" stroke-width="0.95" stroke-linejoin="round" />
<polyline points="242.5,718.33 241.34,723 248.34,724.17 250.67,730 258.84,730" fill="none" stroke="#ffffff" stroke-width="0.95" stroke-linejoin="round" />
<polyline points="237.84,723 241.34,723" fill="none" stroke="#ffffff" stroke-width="0.95" stroke-linejoin="round" />
<polyline points="241.34,731.17 248.34,730 250.67,730" fill="none" stroke="#ffffff" stroke-width="0.95" stroke-linejoin="round" />
<polyline points="239,734.67 246,735.84 250.67,739.34" fill="none" stroke="#ffffff" stroke-width="0.95" stroke-linejoin="round" />
<polyline points="213.33,736.42 214.5,740.27" fill="none" stroke="#ffffff" stroke-width="0.95" stroke-linejoin="round" />
<polyline points="225,737 223.84,739.92" fill="none" stroke="#ffffff" stroke-width="0.95" stroke-linejoin="round" />
<polyline points="204,734.44 204.58,739.92" fill="none" stroke="#ffffff" stroke-width="0.95" stroke-linejoin="round" />
<polyline points="265.84,710.75 267,718.33 264.67,723 271.67,725.33 270.5,732.34 265.84,735.84" fill="none" stroke="#ffffff" stroke-width="0.95" stroke-linejoin="round" />
<polyline points="271.67,713.67 274,718.33 267,718.33" fill="none" stroke="#ffffff" stroke-width="0.95" stroke-linejoin="round" />
<polyline points="274,718.33 279.84,721.83 276.34,725.33 271.67,725.33" fill="none" stroke="#ffffff" stroke-width="0.95" stroke-linejoin="round" />
<polyline points="277.5,715.42 279.84,721.83" fill="none" stroke="#ffffff" stroke-width="0.95" stroke-linejoin="round" />
<polyline points="283.34,714.83 284.5,721.83 279.84,721.83" fill="none" stroke="#ffffff" stroke-width="0.95" stroke-linejoin="round" />
<polyline points="284.5,721.83 290.34,724.17 289.17,730 283.34,730 276.34,725.33" fill="none" stroke="#ffffff" stroke-width="0.95" stroke-linejoin="round" />
<polyline points="283.34,730 281,734.09" fill="none" stroke="#ffffff" stroke-width="0.95" stroke-linejoin="round" />
<polyline points="289.17,730 295.01,735.84" fill="none" stroke="#ffffff" stroke-width="0.95" stroke-linejoin="round" />
<polyline points="290.34,724.17 299.67,725.92" fill="none" stroke="#ffffff" stroke-width="0.95" stroke-linejoin="round" />
<polyline points="297.34,727.67 295.01,735.84" fill="none" stroke="#ffffff" stroke-width="0.95" stroke-linejoin="round" />
<polyline points="304.34,727.67 302.01,735.25" fill="none" stroke="#ffffff" stroke-width="0.95" stroke-linejoin="round" />
<polyline points="270.5,732.34 276.34,733.5 276.34,739.34" fill="none" stroke="#ffffff" stroke-width="0.95" stroke-linejoin="round" />
<polyline points="264.67,723 258.84,730" fill="none" stroke="#ffffff" stroke-width="0.95" stroke-linejoin="round" />
<polyline points="250.67,710.75 250.67,717.17" fill="none" stroke="#ffffff" stroke-width="0.95" stroke-linejoin="round" />
<polyline points="246,713.08 244.84,718.33" fill="none" stroke="#ffffff" stroke-width="0.95" stroke-linejoin="round" />
<polyline points="255.34,710.75 257.09,714.83 260,718.33" fill="none" stroke="#ffffff" stroke-width="0.95" stroke-linejoin="round" />
<polyline points="262.34,740.5 265.84,735.84" fill="none" stroke="#ffffff" stroke-width="0.95" stroke-linejoin="round" />
<polyline points="255.34,734.67 262.34,733.5 270.5,732.34" fill="none" stroke="#ffffff" stroke-width="0.95" stroke-linejoin="round" />
<polyline points="74,652.17 77.5,658 83.33,660.33 88,665 90.33,670.13" fill="none" stroke="#ffffff" stroke-width="0.9" stroke-linejoin="round" />
<polyline points="67,658 74,659.17 77.5,658" fill="none" stroke="#ffffff" stroke-width="0.9" stroke-linejoin="round" />
<polyline points="90.33,655.2 89.17,662.67 97.33,665 98.5,673.17" fill="none" stroke="#ffffff" stroke-width="0.9" stroke-linejoin="round" />
<polyline points="107.83,662.67 110.17,675.5" fill="none" stroke="#ffffff" stroke-width="0.9" stroke-linejoin="round" />
<polyline points="124.17,668.5 118.33,680.17" fill="none" stroke="#ffffff" stroke-width="0.9" stroke-linejoin="round" />
<polyline points="146.33,680.17 142.83,691.83" fill="none" stroke="#ffffff" stroke-width="0.9" stroke-linejoin="round" />
<polyline points="160.33,684.83 153.33,693 159.17,700 158,708.17" fill="none" stroke="#ffffff" stroke-width="0.9" stroke-linejoin="round" />
<polyline points="153.33,693 144,692.53" fill="none" stroke="#ffffff" stroke-width="0.9" stroke-linejoin="round" />
<polyline points="176.67,700 175.5,708.17" fill="none" stroke="#ffffff" stroke-width="0.9" stroke-linejoin="round" />
<polyline points="159.17,700 176.67,700 187.17,696.5" fill="none" stroke="#ffffff" stroke-width="0.9" stroke-linejoin="round" />
<polyline points="169.67,687.17 172,693 176.67,700" fill="none" stroke="#ffffff" stroke-width="0.9" stroke-linejoin="round" />
<polyline points="187.17,696.5 190.67,705.83" fill="none" stroke="#ffffff" stroke-width="0.9" stroke-linejoin="round" />
<polyline points="128.67,736.09 129.25,742.5" fill="none" stroke="#ffffff" stroke-width="1.3" stroke-linejoin="round" />
<polyline points="132.75,736.09 132.17,741.92 135.67,742.5 136.25,748.34" fill="none" stroke="#ffffff" stroke-width="1.3" stroke-linejoin="round" />
<polyline points="138,736.67 137.42,742.5" fill="none" stroke="#ffffff" stroke-width="1.3" stroke-linejoin="round" />
<polyline points="137.42,742.5 129.25,741.92" fill="none" stroke="#ffffff" stroke-width="1.3" stroke-linejoin="round" />
<polyline points="146.17,738.42 145.01,741.92 144.42,747.75" fill="none" stroke="#ffffff" stroke-width="1.3" stroke-linejoin="round" />
<polyline points="145.01,741.92 137.42,742.5" fill="none" stroke="#ffffff" stroke-width="1.3" stroke-linejoin="round" />
<polyline points="140.34,742.5 140.92,748.92" fill="none" stroke="#ffffff" stroke-width="1.3" stroke-linejoin="round" />
<polyline points="150.26,740.17 149.67,747.75" fill="none" stroke="#ffffff" stroke-width="1.3" stroke-linejoin="round" />
<polyline points="149.67,742.5 154.34,744.25 154.92,748.34" fill="none" stroke="#ffffff" stroke-width="1.3" stroke-linejoin="round" />
<polyline points="146.17,738.42 154.34,742.5 161.34,744.84" fill="none" stroke="#ffffff" stroke-width="1.3" stroke-linejoin="round" />
<polyline points="122.25,739.59 128.67,740.17" fill="none" stroke="#ffffff" stroke-width="1.3" stroke-linejoin="round" />
<polyline points="482,846.5 469.6,844.4 441.5,839.8 418.5,839.2 376.5,823.1 346.7,814.6 324.4,807.3 307.1,803.1 292.5,805.2 285.5,811.5 280.4,817.3 274,808.7 267.5,800.2 260.8,791.3 257.5,775.6 257.5,767" fill="none" stroke="#222222" stroke-width="2.78" stroke-linejoin="round" stroke-linecap="square" />
<polyline points="257.5,767 260,741.7 268,717.5 272,698 275,676 282.5,667 295.5,663.2" fill="none" stroke="#222222" stroke-width="2.78" stroke-linejoin="round" stroke-dasharray="2.6 0.3"/>
<circle cx="441.5" cy="839.8" r="3.7" fill="#222222"/>
<circle cx="376.5" cy="823.1" r="3.05" fill="#fff" stroke="#222222" stroke-width="1.3"/>
<circle cx="324.4" cy="807.3" r="3.7" fill="#222222"/>
<circle cx="292.5" cy="805.2" r="3.05" fill="#fff" stroke="#222222" stroke-width="1.3"/>
<circle cx="280.4" cy="817.3" r="3.7" fill="#222222"/>
<circle cx="267.5" cy="800.2" r="3.05" fill="#fff" stroke="#222222" stroke-width="1.3"/>
<circle cx="257.5" cy="775.6" r="3.7" fill="#222222"/>
<polyline points="282.5,667 304,662 327,656.8 338,651.5 344.5,647.4 349,643 355,639 354,635 352.7,631 348,620 342,606 334,595 326.5,579.5 320,566 318.5,560 318.2,544.5 316.5,526 319,510.5 324.5,489.5 335,480 344,467.5 361,445.5 382.5,427.3" fill="none" stroke="#005a32" stroke-width="2.78" stroke-linejoin="round" stroke-linecap="square" />
<circle cx="327" cy="656.8" r="3.7" fill="#222222"/>
<circle cx="344.5" cy="647.4" r="3.05" fill="#fff" stroke="#222222" stroke-width="1.3"/>
<circle cx="355" cy="639" r="3.7" fill="#222222"/>
<circle cx="352.7" cy="631" r="3.05" fill="#fff" stroke="#222222" stroke-width="1.3"/>
<circle cx="342" cy="606" r="3.7" fill="#222222"/>
<circle cx="326.5" cy="579.5" r="3.05" fill="#fff" stroke="#222222" stroke-width="1.3"/>
<circle cx="318.2" cy="544.5" r="3.7" fill="#222222"/>
<circle cx="319" cy="510.5" r="3.05" fill="#fff" stroke="#222222" stroke-width="1.3"/>
<circle cx="344" cy="467.5" r="3.7" fill="#222222"/>
<circle cx="382.5" cy="427.3" r="3.05" fill="#fff" stroke="#222222" stroke-width="1.3"/>
<polyline points="275,676 273,665 274.5,659.1 285,655 305.4,655.6 326,650 344.5,647.4 352,643 357.3,639.3 353,637 351.5,634.6 350,628 342,617.5 334,601 328,594 326.5,588.5 315.5,574 314.5,560 315.5,552.5 310,534 311.3,512.5 308.5,490 314,480 318.5,469 334.5,441" fill="none" stroke="#238b45" stroke-width="2.78" stroke-linejoin="round" stroke-linecap="square" />
<circle cx="274.5" cy="659.1" r="3.05" fill="#fff" stroke="#222222" stroke-width="1.3"/>
<circle cx="305.4" cy="655.6" r="3.7" fill="#222222"/>
<circle cx="344.5" cy="647.4" r="3.05" fill="#fff" stroke="#222222" stroke-width="1.3"/>
<circle cx="357.3" cy="639.3" r="3.7" fill="#222222"/>
<circle cx="351.5" cy="634.6" r="3.05" fill="#fff" stroke="#222222" stroke-width="1.3"/>
<circle cx="342" cy="617.5" r="3.7" fill="#222222"/>
<circle cx="326.5" cy="588.5" r="3.05" fill="#fff" stroke="#222222" stroke-width="1.3"/>
<circle cx="315.5" cy="552.5" r="3.7" fill="#222222"/>
<circle cx="311.3" cy="512.5" r="3.05" fill="#fff" stroke="#222222" stroke-width="1.3"/>
<circle cx="318.5" cy="469" r="3.7" fill="#222222"/>
<polyline points="272,698 270,676 274.3,659.3 287,654.5 303,658 317,652 330.5,648 346,649 359.7,648 363.5,645 363.4,642.2 363.5,620 357.5,604 344.5,590 334.5,571.5 327,552 328.5,537.5 322,513 324.5,489.5 325,464 336.2,437.2" fill="none" stroke="#41ab5d" stroke-width="2.78" stroke-linejoin="round" stroke-linecap="square" />
<circle cx="274.3" cy="659.3" r="3.05" fill="#fff" stroke="#222222" stroke-width="1.3"/>
<circle cx="303" cy="658" r="3.7" fill="#222222"/>
<circle cx="330.5" cy="648" r="3.05" fill="#fff" stroke="#222222" stroke-width="1.3"/>
<circle cx="359.7" cy="648" r="3.7" fill="#222222"/>
<circle cx="363.4" cy="642.2" r="3.05" fill="#fff" stroke="#222222" stroke-width="1.3"/>
<circle cx="357.5" cy="604" r="3.7" fill="#222222"/>
<circle cx="334.5" cy="571.5" r="3.05" fill="#fff" stroke="#222222" stroke-width="1.3"/>
<circle cx="328.5" cy="537.5" r="3.7" fill="#222222"/>
<circle cx="324.5" cy="489.5" r="3.05" fill="#fff" stroke="#222222" stroke-width="1.3"/>
<circle cx="336.2" cy="437.2" r="3.7" fill="#222222"/>
<polyline points="268,717.5 270.3,696.3 271.5,676 276.7,661.7 290,657.5 305.4,655.6 324,657 341,659.7 356,653 368.4,645.7 380,640 386.5,634 384,628 382,615.5 370,597 365.5,583.5 351,567 341.5,548.5 339,525 340,502.5 338,477 345.3,456.5 361,426" fill="none" stroke="#74c476" stroke-width="2.78" stroke-linejoin="round" stroke-linecap="square" />
<circle cx="270.3" cy="696.3" r="3.7" fill="#222222"/>
<circle cx="276.7" cy="661.7" r="3.05" fill="#fff" stroke="#222222" stroke-width="1.3"/>
<circle cx="305.4" cy="655.6" r="3.7" fill="#222222"/>
<circle cx="341" cy="659.7" r="3.05" fill="#fff" stroke="#222222" stroke-width="1.3"/>
<circle cx="368.4" cy="645.7" r="3.7" fill="#222222"/>
<circle cx="382" cy="615.5" r="3.05" fill="#fff" stroke="#222222" stroke-width="1.3"/>
<circle cx="365.5" cy="583.5" r="3.7" fill="#222222"/>
<circle cx="341.5" cy="548.5" r="3.05" fill="#fff" stroke="#222222" stroke-width="1.3"/>
<circle cx="340" cy="502.5" r="3.7" fill="#222222"/>
<circle cx="345.3" cy="456.5" r="3.05" fill="#fff" stroke="#222222" stroke-width="1.3"/>
<polyline points="260,741.7 266,720 274.3,700 278.5,679 294.3,671.3 312,662.5 327,656.8 341,660.5 353.3,661.4 368,655 380.7,648 390,640 387.7,633.4 386,624 380.5,600.5 370,573 366.5,561.5 365,540 366,513 364.5,490 368.3,469.3" fill="none" stroke="#a1d99b" stroke-width="2.78" stroke-linejoin="round" stroke-linecap="square" />
<circle cx="274.3" cy="700" r="3.7" fill="#222222"/>
<circle cx="294.3" cy="671.3" r="3.05" fill="#fff" stroke="#222222" stroke-width="1.3"/>
<circle cx="327" cy="656.8" r="3.7" fill="#222222"/>
<circle cx="353.3" cy="661.4" r="3.05" fill="#fff" stroke="#222222" stroke-width="1.3"/>
<circle cx="380.7" cy="648" r="3.7" fill="#222222"/>
<circle cx="387.7" cy="633.4" r="3.05" fill="#fff" stroke="#222222" stroke-width="1.3"/>
<circle cx="380.5" cy="600.5" r="3.7" fill="#222222"/>
<circle cx="366.5" cy="561.5" r="3.05" fill="#fff" stroke="#222222" stroke-width="1.3"/>
<circle cx="366" cy="513" r="3.7" fill="#222222"/>
<circle cx="368.3" cy="469.3" r="3.05" fill="#fff" stroke="#222222" stroke-width="1.3"/>
<polyline points="257.5,767 249.7,748.7 259,722 272.5,699.5 281,681 294.3,675.7 316,667 338,658 349,661.5 359.7,661.4 371,657.5 380.7,652.7 392.5,645 391.5,629 390.5,615 388.5,600.5 380,580 372.5,561 367.5,540 367,513 368.5,489.5" fill="none" stroke="#c7e9c0" stroke-width="2.78" stroke-linejoin="round" stroke-linecap="square" />
<circle cx="249.7" cy="748.7" r="3.05" fill="#fff" stroke="#222222" stroke-width="1.3"/>
<circle cx="272.5" cy="699.5" r="3.7" fill="#222222"/>
<circle cx="294.3" cy="675.7" r="3.05" fill="#fff" stroke="#222222" stroke-width="1.3"/>
<circle cx="338" cy="658" r="3.7" fill="#222222"/>
<circle cx="359.7" cy="661.4" r="3.05" fill="#fff" stroke="#222222" stroke-width="1.3"/>
<circle cx="380.7" cy="652.7" r="3.7" fill="#222222"/>
<circle cx="391.5" cy="629" r="3.05" fill="#fff" stroke="#222222" stroke-width="1.3"/>
<circle cx="388.5" cy="600.5" r="3.7" fill="#222222"/>
<circle cx="372.5" cy="561" r="3.05" fill="#fff" stroke="#222222" stroke-width="1.3"/>
<circle cx="367" cy="513" r="3.7" fill="#222222"/>
<circle cx="282.5" cy="667" r="3.6" fill="#005a32"/>
<circle cx="275" cy="676" r="3.6" fill="#238b45"/>
<circle cx="272" cy="698" r="3.6" fill="#41ab5d"/>
<circle cx="268" cy="717.5" r="3.6" fill="#74c476"/>
<circle cx="260" cy="741.7" r="3.6" fill="#a1d99b"/>
<circle cx="257.5" cy="767" r="3.6" fill="#c7e9c0"/>
<polyline points="295.5,663.2 310.7,659.1 327,653.8 339.8,646.8 346.8,639.8 350,628 348.5,622 340,604 333,586 327,569 325,560 323,548 319,522 314.5,496 318,487 336,440 349.5,410.5" fill="none" stroke="#7f7f7f" stroke-width="2.78" stroke-linejoin="round" stroke-linecap="square" />
<circle cx="295.5" cy="663.2" r="3.6" fill="#7f7f7f"/>
</g>
<rect x="66.4" y="335.5" width="509.4" height="509.1" fill="none" stroke="#000" stroke-width="1.39"/>
<path d="M66.4 803.3h-6.94M66.4 707.3h-6.94M66.4 611.3h-6.94M66.4 515.3h-6.94M66.4 419.3h-6.94" stroke="#000" stroke-width="1.39" fill="none"/>
<text transform="translate(54.6 808.2) scale(1 1.08)" font-size="11.15" word-spacing="0.3" text-anchor="end" fill="#000">15°N</text>
<text transform="translate(54.6 712.2) scale(1 1.08)" font-size="11.15" word-spacing="0.3" text-anchor="end" fill="#000">20°N</text>
<text transform="translate(54.6 616.2) scale(1 1.08)" font-size="11.15" word-spacing="0.3" text-anchor="end" fill="#000">25°N</text>
<text transform="translate(54.6 520.2) scale(1 1.08)" font-size="11.15" word-spacing="0.3" text-anchor="end" fill="#000">30°N</text>
<text transform="translate(54.6 424.2) scale(1 1.08)" font-size="11.15" word-spacing="0.3" text-anchor="end" fill="#000">35°N</text>
<text x="569.5" y="352.5" font-size="13.89" text-anchor="end" font-weight="bold" fill="#000">Track</text>
<line x1="71.9" y1="348.5" x2="98.1" y2="348.5" stroke="#222222" stroke-width="3.47"/>
<text transform="translate(105 352) scale(1 1.08)" font-size="11.4" word-spacing="0.3" text-anchor="start" fill="#000">BEST</text>
<line x1="71.9" y1="362.67" x2="98.1" y2="362.67" stroke="#005a32" stroke-width="3.47"/>
<text transform="translate(105 366.17) scale(1 1.08)" font-size="11.4" word-spacing="0.3" text-anchor="start" fill="#000">12z 24 Aug</text>
<line x1="71.9" y1="376.84" x2="98.1" y2="376.84" stroke="#238b45" stroke-width="3.47"/>
<text transform="translate(105 380.34) scale(1 1.08)" font-size="11.4" word-spacing="0.3" text-anchor="start" fill="#000">06z 24 Aug</text>
<line x1="71.9" y1="391.01" x2="98.1" y2="391.01" stroke="#41ab5d" stroke-width="3.47"/>
<text transform="translate(105 394.51) scale(1 1.08)" font-size="11.4" word-spacing="0.3" text-anchor="start" fill="#000">00z 24 Aug</text>
<line x1="71.9" y1="405.18" x2="98.1" y2="405.18" stroke="#74c476" stroke-width="3.47"/>
<text transform="translate(105 408.68) scale(1 1.08)" font-size="11.4" word-spacing="0.3" text-anchor="start" fill="#000">18z 23 Aug</text>
<line x1="71.9" y1="419.35" x2="98.1" y2="419.35" stroke="#a1d99b" stroke-width="3.47"/>
<text transform="translate(105 422.85) scale(1 1.08)" font-size="11.4" word-spacing="0.3" text-anchor="start" fill="#000">12z 23 Aug</text>
<line x1="71.9" y1="433.52" x2="98.1" y2="433.52" stroke="#c7e9c0" stroke-width="3.47"/>
<text transform="translate(105 437.02) scale(1 1.08)" font-size="11.4" word-spacing="0.3" text-anchor="start" fill="#000">06z 23 Aug</text>
<line x1="71.9" y1="447.69" x2="98.1" y2="447.69" stroke="#7f7f7f" stroke-width="3.47"/>
<text transform="translate(105 451.19) scale(1 1.08)" font-size="11.4" word-spacing="0.3" text-anchor="start" fill="#000">OFCL</text>
<defs><linearGradient id="lg" gradientUnits="userSpaceOnUse" x1="5" y1="0" x2="75" y2="0"><stop offset="0" stop-color="#1c2d78"/><stop offset="0.5" stop-color="#23458f"/><stop offset="1" stop-color="#2f68b2"/></linearGradient><radialGradient id="eg" cx="0.4" cy="0.45" r="0.65"><stop offset="0" stop-color="#a8b8a4"/><stop offset="0.45" stop-color="#5d7fa8"/><stop offset="1" stop-color="#1d3272"/></radialGradient></defs>
<text font-family="'Liberation Sans','DejaVu Sans',sans-serif" font-weight="bold" font-size="36.3" fill="#1c2e79" transform="translate(3.9 894.6) scale(0.87 1)">C</text>
<text font-family="'Liberation Sans','DejaVu Sans',sans-serif" font-weight="bold" font-size="36.3" fill="#1f3a86" transform="translate(25.4 894.6) scale(0.95 1)">I</text>
<text font-family="'Liberation Sans','DejaVu Sans',sans-serif" font-weight="bold" font-size="36.3" fill="#234a96" transform="translate(34 894.6) scale(0.72 1)">R</text>
<text font-family="'Liberation Sans','DejaVu Sans',sans-serif" font-weight="bold" font-size="36.3" fill="#2a5ca8" transform="translate(52.8 894.6) scale(0.87 1)">A</text>
<polygon points="55.8,893.5 63.4,872.5 71.5,893.5" fill="#2a5ca8"/>
<path d="M60.5 886.5 L67 883 L65.8 890 Z" fill="#dfe6ee"/>
<circle cx="15.0" cy="882" r="7.4" fill="url(#eg)"/>
<path d="M42.3 874 L44.5 880" stroke="#cfd8e6" stroke-width="1"/>
<circle cx="90" cy="882.8" r="14.8" fill="#1f86c9"/>
<clipPath id="lc"><circle cx="90" cy="882.8" r="14.8"/></clipPath>
<g clip-path="url(#lc)"><path d="M74 892 L77 888.5 L82.5 882.6 L88 885.2 L93 881.4 L98.5 885.5 L104.5 887 L106 900 L74 900Z" fill="#3b3f9d"/><ellipse cx="83" cy="879" rx="3.9" ry="1.5" fill="#fff"/><ellipse cx="94" cy="876.6" rx="4.8" ry="1.7" fill="#fff"/><path d="M77.5 891 Q90 887.2 103 890.2" stroke="#fff" stroke-width="0.9" fill="none"/><path d="M100 891.5 L104 888 L103.2 891.2 Z" fill="#fff"/></g>
<text x="90" y="894.9" font-size="3.4" font-weight="bold" fill="#fff" text-anchor="middle">RAMMB</text>
</svg>
</body></html>
